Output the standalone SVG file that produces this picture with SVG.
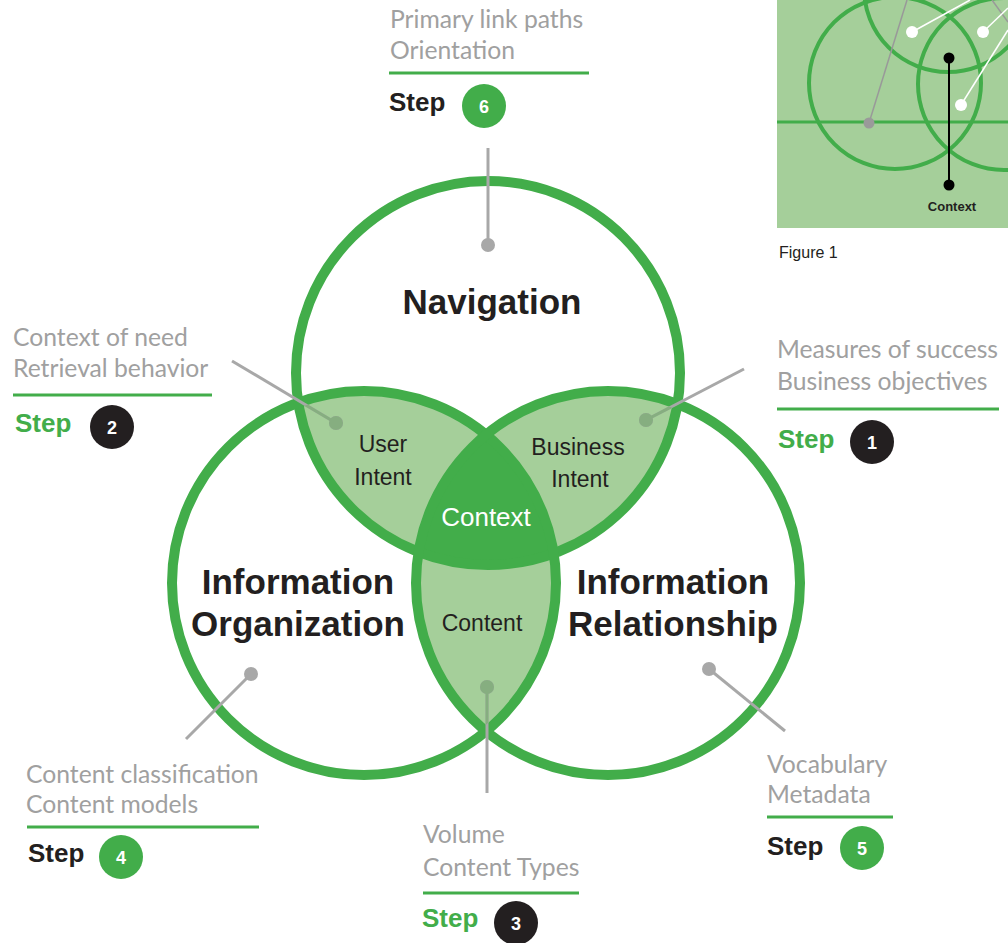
<svg xmlns="http://www.w3.org/2000/svg" width="1008" height="943" viewBox="0 0 1008 943">
<style>
.ring{fill:none;stroke:#42ad4a;stroke-width:10}
.lens{fill:#a5cf9a}
.core{fill:#42ad4a}
.big{font-family:"Liberation Sans",Arial,sans-serif;font-weight:bold;font-size:35px;fill:#231f20;text-anchor:middle}
.mid{font-family:"Liberation Sans",Arial,sans-serif;font-size:23px;fill:#231f20;text-anchor:middle}
.note{font-family:Lato,"Noto Sans",sans-serif;font-size:24.7px;fill:#a0a0a0}
.step{font-family:"Liberation Sans",Arial,sans-serif;font-weight:bold;font-size:26px}
.num{font-family:"Liberation Sans",Arial,sans-serif;font-weight:bold;font-size:18px;fill:#fff;text-anchor:middle}
.rule{stroke:#42ad4a;stroke-width:3}
.con{stroke:#a8a8a8;stroke-width:3;fill:none}
.dot{fill:#a8a8a8}
.conl{stroke:#86ae80;stroke-width:3;fill:none}
.dotl{fill:#86ae80}
.g{fill:#42ad4a}
.k{fill:#231f20}
.iring{fill:none;stroke:#42ad4a;stroke-width:4}
</style>
<defs>
<clipPath id="cN"><circle cx="488" cy="373" r="192"/></clipPath>
<clipPath id="cL"><circle cx="364" cy="583" r="192"/></clipPath>
<clipPath id="iN"><circle cx="488" cy="373" r="187"/></clipPath>
<clipPath id="iL"><circle cx="364" cy="583" r="187"/></clipPath>
<clipPath id="iR"><circle cx="608" cy="583" r="187"/></clipPath>
</defs>
<rect width="1008" height="943" fill="#fff"/>

<g id="figure1">
<rect x="777" y="0" width="231" height="228" fill="#a5cf9a"/>
<line x1="777" y1="122" x2="1008" y2="122" stroke="#42ad4a" stroke-width="3"/>
<circle class="iring" cx="895" cy="83" r="86"/>
<circle class="iring" cx="948" cy="-12" r="84"/>
<circle class="iring" cx="1004" cy="84" r="86"/>
<line x1="907" y1="0" x2="869" y2="123" stroke="#999" stroke-width="1.5"/>
<circle cx="869" cy="123" r="5.5" fill="#9a9a9a"/>
<line x1="992" y1="0" x2="1008" y2="22" stroke="#999" stroke-width="1.5"/>
<g stroke="#fff" stroke-width="1.5">
<line x1="912" y1="32" x2="970" y2="0"/>
<line x1="983" y1="32" x2="1008" y2="8"/>
<line x1="961" y1="105" x2="1008" y2="30"/>
</g>
<circle cx="912" cy="32" r="6" fill="#fff"/>
<circle cx="983" cy="32" r="6" fill="#fff"/>
<circle cx="961" cy="105" r="6" fill="#fff"/>
<line x1="949" y1="58" x2="949" y2="185" stroke="#000" stroke-width="2"/>
<circle cx="949" cy="58" r="5.5" fill="#000"/>
<circle cx="949" cy="185" r="5.5" fill="#000"/>
<text x="952" y="211" font-family="'Liberation Sans',Arial,sans-serif" font-weight="bold" font-size="13" fill="#231f20" text-anchor="middle">Context</text>
<text x="779" y="258" font-family="'Liberation Sans',Arial,sans-serif" font-size="16" fill="#231f20">Figure 1</text>
</g>

<g id="venn-fills">
<circle class="lens" cx="364" cy="583" r="192" clip-path="url(#cN)"/>
<circle class="lens" cx="608" cy="583" r="192" clip-path="url(#cN)"/>
<circle class="lens" cx="608" cy="583" r="192" clip-path="url(#cL)"/>
<g clip-path="url(#cN)"><circle class="core" cx="608" cy="583" r="192" clip-path="url(#cL)"/></g>
</g>

<g id="navigation"><circle class="ring" cx="488" cy="373" r="192"/><text class="big" x="492" y="314">Navigation</text></g>
<g id="information-organization"><circle class="ring" cx="364" cy="583" r="192"/><text class="big" x="298" y="594">Information</text><text class="big" x="298" y="636">Organization</text></g>
<g id="information-relationship"><circle class="ring" cx="608" cy="583" r="192"/><text class="big" x="673" y="594">Information</text><text class="big" x="673" y="636">Relationship</text></g>
<g id="user-intent"><text class="mid" x="383" y="452">User</text><text class="mid" x="383" y="485">Intent</text></g>
<g id="business-intent"><text class="mid" x="578" y="455">Business</text><text class="mid" x="580" y="487">Intent</text></g>
<g id="context"><text x="486" y="526" font-family="'Liberation Sans',Arial,sans-serif" font-size="26" fill="#fff" text-anchor="middle">Context</text></g>
<g id="content"><text class="mid" x="482" y="631">Content</text></g>

<g id="connectors">
<line class="con" x1="488" y1="148" x2="488" y2="245"/><circle class="dot" cx="488" cy="245" r="7"/>
<line class="con" x1="232" y1="361" x2="336" y2="423"/><circle class="dot" cx="336" cy="423" r="7"/>
<line class="con" x1="744" y1="369" x2="646" y2="420"/><circle class="dot" cx="646" cy="420" r="7"/>
<line class="con" x1="186" y1="739" x2="251" y2="674"/><circle class="dot" cx="251" cy="674" r="7"/>
<line class="con" x1="487" y1="793" x2="487" y2="687"/><circle class="dot" cx="487" cy="687" r="7"/>
<line class="con" x1="785" y1="731" x2="709" y2="669"/><circle class="dot" cx="709" cy="669" r="7"/>
<g clip-path="url(#iN)"><g clip-path="url(#iL)"><line class="conl" x1="232" y1="361" x2="336" y2="423"/><circle class="dotl" cx="336" cy="423" r="7"/></g></g>
<g clip-path="url(#iN)"><g clip-path="url(#iR)"><line class="conl" x1="744" y1="369" x2="646" y2="420"/><circle class="dotl" cx="646" cy="420" r="7"/></g></g>
<g clip-path="url(#iL)"><g clip-path="url(#iR)"><line class="conl" x1="487" y1="793" x2="487" y2="687"/><circle class="dotl" cx="487" cy="687" r="7"/></g></g>
</g>

<g id="step6">
<text class="note" x="390" y="28">Primary link paths</text><text class="note" x="390" y="59">Orientation</text>
<line class="rule" x1="389" y1="73" x2="589" y2="73"/>
<text class="step k" x="389" y="111">Step</text>
<circle class="g" cx="484" cy="106" r="22"/><text class="num" x="484" y="112.5">6</text>
</g>
<g id="step2">
<text class="note" x="13" y="346">Context of need</text><text class="note" x="13" y="377">Retrieval behavior</text>
<line class="rule" x1="13" y1="395" x2="212" y2="395"/>
<text class="step g" x="15" y="432">Step</text>
<circle class="k" cx="112" cy="427" r="22"/><text class="num" x="112" y="433.5">2</text>
</g>
<g id="step1">
<text class="note" x="777" y="358">Measures of success</text><text class="note" x="777" y="390">Business objectives</text>
<line class="rule" x1="777" y1="409" x2="999" y2="409"/>
<text class="step g" x="778" y="448">Step</text>
<circle class="k" cx="872" cy="442" r="22"/><text class="num" x="872" y="448.5">1</text>
</g>
<g id="step4">
<text class="note" x="26" y="783">Content classification</text><text class="note" x="26" y="813">Content models</text>
<line class="rule" x1="27" y1="827" x2="259" y2="827"/>
<text class="step k" x="28" y="862">Step</text>
<circle class="g" cx="121" cy="857" r="22"/><text class="num" x="121" y="863.5">4</text>
</g>
<g id="step3">
<text class="note" x="423" y="843">Volume</text><text class="note" x="423" y="876">Content Types</text>
<line class="rule" x1="423" y1="893" x2="579" y2="893"/>
<text class="step g" x="422" y="927">Step</text>
<circle class="k" cx="516" cy="923" r="22"/><text class="num" x="516" y="929.5">3</text>
</g>
<g id="step5">
<text class="note" x="767" y="773">Vocabulary</text><text class="note" x="767" y="803">Metadata</text>
<line class="rule" x1="767" y1="817" x2="893" y2="817"/>
<text class="step k" x="767" y="855">Step</text>
<circle class="g" cx="862" cy="848" r="22"/><text class="num" x="862" y="854.5">5</text>
</g>
</svg>
